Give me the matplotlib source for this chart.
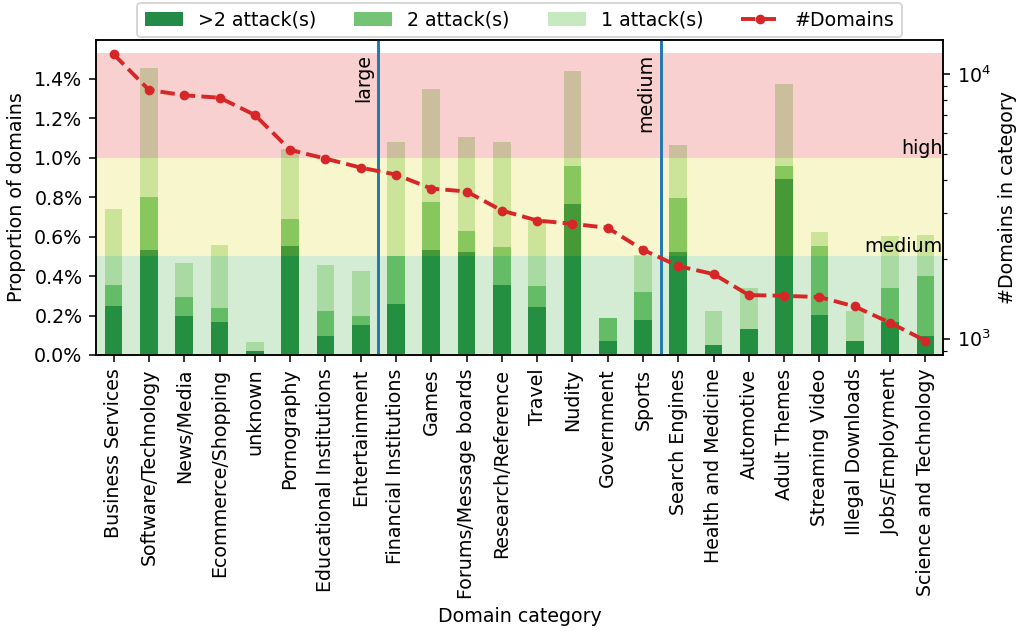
import matplotlib
matplotlib.use("Agg")
import matplotlib.pyplot as plt
from matplotlib.ticker import PercentFormatter
import numpy as np

plt.rcParams["font.size"] = 9.75

categories = [
    "Business Services", "Software/Technology", "News/Media", "Ecommerce/Shopping",
    "unknown", "Pornography", "Educational Institutions", "Entertainment",
    "Financial Institutions", "Games", "Forums/Message boards", "Research/Reference",
    "Travel", "Nudity", "Government", "Sports", "Search Engines",
    "Health and Medicine", "Automotive", "Adult Themes", "Streaming Video",
    "Illegal Downloads", "Jobs/Employment", "Science and Technology",
]

# proportion of domains (%) per number of attacks, stacked
more_than_two = [0.246, 0.533, 0.198, 0.168, 0.020, 0.554, 0.097, 0.152,
                 0.259, 0.533, 0.523, 0.356, 0.244, 0.767, 0.071, 0.178,
                 0.523, 0.051, 0.132, 0.889, 0.203, 0.071, 0.168, 0.097]
two_attacks = [0.110, 0.265, 0.097, 0.071, 0.0, 0.137, 0.127, 0.046,
               0.241, 0.244, 0.107, 0.193, 0.107, 0.188, 0.117, 0.142,
               0.270, 0.0, 0.0, 0.066, 0.351, 0.0, 0.172, 0.304]
one_attack = [0.381, 0.655, 0.172, 0.320, 0.046, 0.350, 0.233, 0.229,
              0.577, 0.569, 0.472, 0.528, 0.325, 0.483, 0.0, 0.188,
              0.269, 0.173, 0.208, 0.417, 0.071, 0.153, 0.265, 0.209]

# number of domains in each category (right axis, log)
n_domains = [11900, 8725, 8329, 8157, 7020, 5176, 4800, 4436,
             4176, 3698, 3603, 3053, 2799, 2720, 2626, 2168,
             1882, 1755, 1462, 1453, 1437, 1324, 1149, 983]

bands = [(0.0, 0.5, "#2ca02c"), (0.5, 1.0, "#dcd200"), (1.0, 1.53, "#dc1414")]
size_splits = [(7.5, "large"), (15.5, "medium")]
band_labels = [(1.0, "high"), (0.5, "medium")]

fig, ax = plt.subplots(figsize=(1021 / 140, 631 / 140), dpi=140)
fig.subplots_adjust(left=96 / 1021, right=943 / 1021, top=1 - 40 / 631, bottom=1 - 355 / 631)

x = np.arange(len(categories))
gt2 = np.array(more_than_two)
two = np.array(two_attacks)
one = np.array(one_attack)

b1 = ax.bar(x, gt2, width=0.5, color="#238b45", label=">2 attack(s)")
b2 = ax.bar(x, two, width=0.5, bottom=gt2, color="#74c476", label="2 attack(s)")
b3 = ax.bar(x, one, width=0.5, bottom=gt2 + two, color="#c7e9c0", label="1 attack(s)")

for lo, hi, c in bands:
    ax.axhspan(lo, hi, color=c, alpha=0.2, lw=0, zorder=3)

for xv, label in size_splits:
    ax.axvline(xv, color="tab:blue", lw=1.5, zorder=4)
    ax.text(xv - 0.14, 1.525, label, rotation=90, ha="right", va="top", zorder=5)

for yv, label in band_labels:
    ax.text(23.5, yv, label, ha="right", va="bottom", zorder=5)

ax.set_xlim(-0.5, len(categories) - 0.5)
ax.set_ylim(0, 1.595)
ax.yaxis.set_major_formatter(PercentFormatter(decimals=1))
ax.set_xticks(x)
ax.set_xticklabels(categories, rotation=90)
ax.set_xlabel("Domain category")
ax.set_ylabel("Proportion of domains")

ax2 = ax.twinx()
line, = ax2.plot(x, n_domains, color="tab:red", ls="--", marker="o", ms=4, lw=2,
                 label="#Domains")
ax2.set_yscale("log")
ax2.set_ylabel("#Domains in category")

ax2.legend(handles=[b1, b2, b3, line], loc="lower center", bbox_to_anchor=(0.5, 1.0),
           ncol=4, borderaxespad=0.15)

plt.savefig("out.png", dpi=140)
